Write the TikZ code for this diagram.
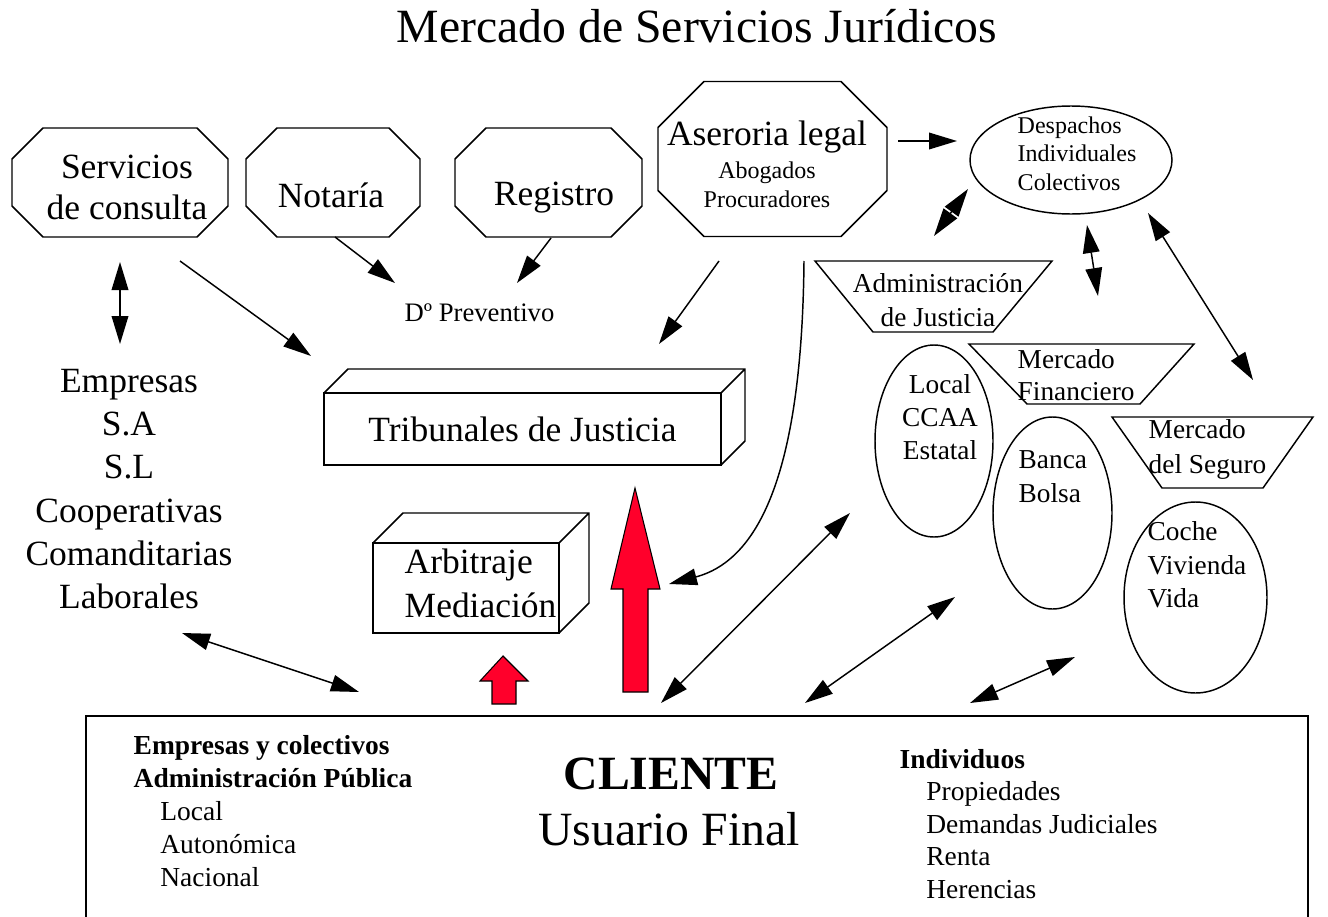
\documentclass[tikz,border=0pt]{standalone}
\usepackage{fontspec}
\setmainfont{Liberation Serif}
\usetikzlibrary{arrows.meta,shapes.geometric}
\definecolor{rojo}{RGB}{255,0,43}
\tikzset{octa/.style={rectangle,outer sep=0pt},
  caja/.style={rectangle,draw,outer sep=0pt},
  elip/.style={ellipse,draw,outer sep=0pt},
  flecha/.style={-{Triangle[length=21pt,width=12.5pt]}},
  dflecha/.style={{Triangle[length=21pt,width=12.5pt]}-{Triangle[length=21pt,width=12.5pt]}},
  roja/.style={fill=rojo,draw=black,line width=0.8pt}}
% octogono alrededor de un nodo: #1 nombre, #2 chaflan
\newcommand\octagono[2]{\draw ([xshift=#2]#1.north west) -- ([xshift=-#2]#1.north east) -- ([yshift=-#2]#1.north east) -- ([yshift=#2]#1.south east) -- ([xshift=-#2]#1.south east) -- ([xshift=#2]#1.south west) -- ([yshift=#2]#1.south west) -- ([yshift=-#2]#1.north west) -- cycle;}

\begin{document}
\begin{tikzpicture}[x=0.75pt,y=-0.75pt,line width=1.1pt,inner sep=0pt]
\useasboundingbox (0,0) rectangle (1328,917);

\node[anchor=base,font=\fontsize{35.8}{40}\selectfont] (titulo) at (697,43) {Mercado de Servicios Jurídicos};

% octogonos
\node[octa,minimum width=162pt,minimum height=81.75pt] (serv) at (120,182.5) {};
\octagono{serv}{23.25pt}
\node[align=center,font=\fontsize{26.6}{30.75}\selectfont] (servT) at (127,187.5) {Servicios\\de consulta};
\node[octa,minimum width=130.5pt,minimum height=81.75pt] (nota) at (333,182.5) {};
\octagono{nota}{23.25pt}
\node[anchor=base,font=\fontsize{26.6}{30.75}\selectfont] (notaT) at (331,207) {Notaría};
\node[octa,minimum width=140.25pt,minimum height=81.75pt] (regi) at (548.5,182.5) {};
\octagono{regi}{23.25pt}
\node[anchor=base,font=\fontsize{26.6}{30.75}\selectfont] (regiT) at (554,205) {Registro};
\node[octa,minimum width=171.75pt,minimum height=116.25pt] (aser) at (772.5,159) {};
\octagono{aser}{34.5pt}
\node[anchor=base,font=\fontsize{26.6}{30.75}\selectfont] (aserT) at (767,145) {Aseroria legal};
\node[align=center,font=\fontsize{18}{21.75}\selectfont] (abog) at (767,184.3) {Abogados\\Procuradores};

\node[anchor=base,font=\fontsize{20}{24}\selectfont] (prev) at (479.5,321) {Dº Preventivo};

% despachos y mercados
\node[elip,minimum width=151.5pt,minimum height=81pt] (desp) at (1071,160) {};
\node[anchor=west,align=left,font=\fontsize{18}{21.4}\selectfont] (despT) at (1017,153.4) {Despachos\\Individuales\\Colectivos};

\draw (815,261) -- (1052,261) -- (993,332) -- (873,332) -- cycle;
\node[align=center,font=\fontsize{20.5}{25.5}\selectfont] (admin) at (938,299.7) {Administración\\de Justicia};
\draw (969,344) -- (1194,344) -- (1140,404) -- (1027,404) -- cycle;
\node[anchor=west,align=left,font=\fontsize{20.5}{24}\selectfont] (finan) at (1017,374.7) {Mercado\\Financiero};
\draw (1112,417) -- (1313,417) -- (1263,488) -- (1162,488) -- cycle;
\node[anchor=west,align=left,font=\fontsize{20.5}{26}\selectfont] (segu) at (1148,449.2) {Mercado\\del Seguro};

\node[elip,minimum width=88.5pt,minimum height=144pt] (local) at (934,441) {};
\node[align=center,font=\fontsize{20.5}{24.75}\selectfont] (localT) at (940,417) {Local\\CCAA\\Estatal};
\node[elip,minimum width=89.25pt,minimum height=144pt] (banca) at (1052.5,513) {};
\node[anchor=west,align=left,font=\fontsize{20.5}{25.5}\selectfont] (bancaT) at (1018,477) {Banca\\Bolsa};
\node[elip,minimum width=107.25pt,minimum height=143.25pt] (coche) at (1195.5,597.5) {};
\node[anchor=west,align=left,font=\fontsize{20.5}{25.1}\selectfont] (cocheT) at (1147,565) {Coche\\Vivienda\\Vida};

% empresas
\node[align=center,font=\fontsize{26.6}{32.4}\selectfont] (empr) at (129,489) {Empresas\\S.A\\S.L\\Cooperativas\\Comanditarias\\Laborales};

% tribunales y arbitraje
\node[caja,minimum width=297.75pt,minimum height=54pt,font=\fontsize{26.6}{30.75}\selectfont] (trib) at (522.5,429) {Tribunales de Justicia};
\draw (trib.north west) -- ++(24,-24) -- ++(397,0) -- ++(0,72) -- (trib.south east) (trib.north east) -- ++(24,-24);
\node[caja,minimum width=139.5pt,minimum height=67.5pt] (arb) at (466,588) {};
\draw (arb.north west) -- ++(30,-30) -- ++(186,0) -- ++(0,90) -- (arb.south east) (arb.north east) -- ++(30,-30);
\node[anchor=west,align=left,font=\fontsize{26.6}{33}\selectfont] (arbT) at (404,582.9) {Arbitraje\\Mediación};

\draw[roja] (623,692) -- (623,589) -- (611,589) -- (635,488) -- (660,589) -- (648,589) -- (648,692) -- cycle;
\draw[roja] (492,704) -- (492,681) -- (480,681) -- (503,656) -- (528,681) -- (516,681) -- (516,704) -- cycle;

% cliente
\node[caja,line width=1.6pt,minimum width=916.5pt,minimum height=160.5pt] (cliente) at (697,823) {};
\node[anchor=base,font=\fontsize{35.8}{40}\selectfont] (clienteT) at (671,789) {\textbf{CLIENTE}};
\node[anchor=base,font=\fontsize{35.8}{40}\selectfont] (usuario) at (669,845) {Usuario Final};
\node[anchor=west,align=left,font=\fontsize{20.6}{24.9}\selectfont] (colec) at (133,811) {\textbf{Empresas y colectivos}\\\textbf{Administración Pública}\\\hspace*{20pt}Local\\\hspace*{20pt}Autonómica\\\hspace*{20pt}Nacional};
\node[anchor=west,align=left,font=\fontsize{20.6}{24.4}\selectfont] (indiv) at (899,823.7) {\textbf{Individuos}\\\hspace*{20pt}Propiedades\\\hspace*{20pt}Demandas Judiciales\\\hspace*{20pt}Renta\\\hspace*{20pt}Herencias};

% extremos de las flechas
\coordinate (servS) at (120,262); \coordinate (emprN) at (120,344);
\coordinate (servE) at (180,261); \coordinate (tribW) at (311,356);
\coordinate (notaS) at (335,237); \coordinate (prevL) at (395,283);
\coordinate (regiS) at (551,238); \coordinate (prevR) at (517,283);
\coordinate (aserS) at (719,261); \coordinate (tribE) at (659,344);
\coordinate (aserC) at (804,261); \coordinate (rojaE) at (669,584);
\coordinate (aserE) at (898,141); \coordinate (despW) at (957,141);
\coordinate (despSW) at (968,189); \coordinate (adminN) at (934,236);
\coordinate (despS) at (1087,225); \coordinate (finanN) at (1098,296);
\coordinate (despSE) at (1148,213); \coordinate (seguN) at (1253,380);
\coordinate (emprS) at (182,633); \coordinate (cliA) at (359,692);
\coordinate (localW) at (850,513); \coordinate (cliB) at (661,703);
\coordinate (bancaW) at (955,597); \coordinate (cliC) at (805,703);
\coordinate (cocheW) at (1075,657); \coordinate (cliD) at (970,703);

\draw[dflecha] (servS) -- (emprN);
\draw[flecha] (servE) -- (tribW);
\draw[flecha] (notaS) -- (prevL);
\draw[flecha] (regiS) -- (prevR);
\draw[flecha] (aserS) -- (tribE);
\draw[flecha] (aserC) .. controls (802,470) and (760,560) .. (rojaE);
\draw[flecha] (aserE) -- (despW);
\draw[dflecha] (despSW) -- (adminN);
\draw[dflecha] (despS) -- (finanN);
\draw[dflecha] (despSE) -- (seguN);
\draw[dflecha] (emprS) -- (cliA);
\draw[dflecha] (localW) -- (cliB);
\draw[dflecha] (bancaW) -- (cliC);
\draw[dflecha] (cocheW) -- (cliD);

\end{tikzpicture}
\end{document}
